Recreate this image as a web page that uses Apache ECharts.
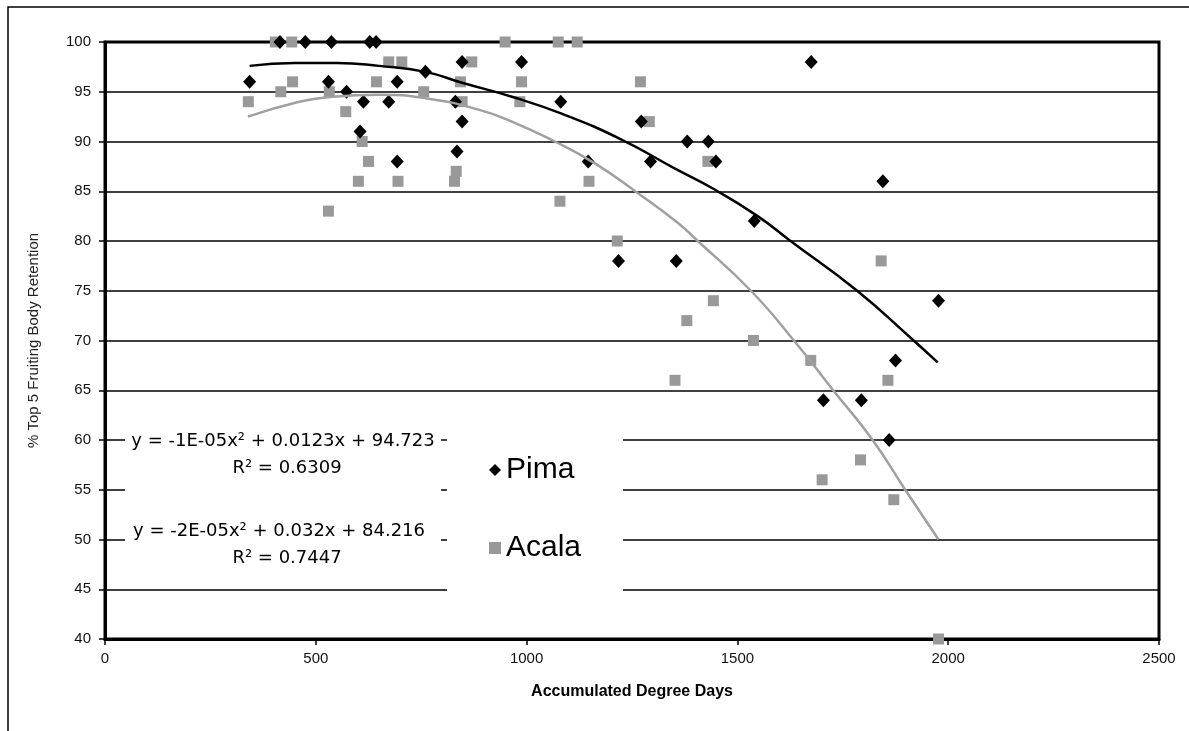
<!DOCTYPE html>
<html>
<head>
<meta charset="utf-8">
<script src="https://cdn.jsdelivr.net/npm/echarts@6/dist/echarts.min.js"></script>
<style>html,body{margin:0;padding:0;background:#fff;}#c{width:1189px;height:731px;}</style>
</head>
<body>
<div id="c"></div>
<script>
// Data
var pima = [
  [343,96],[415,100],[475,100],[537,100],[628,100],[643,100],[530,96],[573,95],[613,94],
  [673,94],[693,96],[605,91],[693,88],[760,97],[847,98],[988,98],[831,94],[847,92],
  [1081,94],[835,89],[1272,92],[1146,88],[1294,88],[1675,98],[1381,90],[1431,90],
  [1449,88],[1845,86],[1540,82],[1355,78],[1218,78],[1977,74],[1875,68],[1704,64],
  [1794,64],[1860,60]
];
var acala = [
  [404,100],[443,100],[340,94],[417,95],[445,96],[532,95],[571,93],[610,90],[625,88],
  [601,86],[695,86],[530,83],[673,98],[704,98],[644,96],[949,100],[1075,100],[1120,100],
  [870,98],[843,96],[988,96],[1270,96],[756,95],[847,94],[984,94],[1291,92],[833,87],
  [829,86],[1148,86],[1079,84],[1430,88],[1841,78],[1443,74],[1380,72],[1538,70],
  [1674,68],[1352,66],[1857,66],[1792,58],[1701,56],[1871,54],[1977,40],[1215,80]
];
// Trend curves
var pimaTrend = [
  [343,97.6],[450,97.9],[550,97.9],[650,97.6],[760,97.0],[847,95.9],[965,94.5],[1083,92.8],
  [1225,90.2],[1351,87.3],[1445,85.2],[1548,82.5],[1626,80],[1784,75],[1918,70],[1975,67.8]
];
var acalaTrend = [
  [339,92.5],[461,94.0],[540,94.5],[650,94.7],[768,94.3],[886,93.2],[965,92.0],[1067,90.0],
  [1162,87.8],[1264,84.8],[1359,81.8],[1406,80],[1532,75],[1634,70],[1729,64.9],[1819,60.1],
  [1898,55],[1977,50]
];
var seriesNames = ['Pima','Acala'];
var eqPima = ['y = -1E-05x\u00B2 + 0.0123x + 94.723', 'R\u00B2 = 0.6309'];
var eqAcala = ['y = -2E-05x\u00B2 + 0.032x + 84.216', 'R\u00B2 = 0.7447'];
var xTitle = 'Accumulated Degree Days';
var yTitle = '% Top 5 Fruiting Body Retention';

var chart = echarts.init(document.getElementById('c'), null, {renderer:'canvas'});
var font = 'Arial, "Liberation Sans", sans-serif';
var eqFont = '18px "DejaVu Sans", Arial, sans-serif';
var option = {
  backgroundColor: '#fff',
  animation: false,
  grid: {left:105, top:42, right:30, bottom:92, show:true, borderColor:'#000', borderWidth:3, backgroundColor:'transparent'},
  xAxis: {
    type:'value', min:0, max:2500, interval:500,
    name: xTitle, nameLocation:'middle', nameGap:45,
    nameTextStyle:{fontFamily:'"Liberation Sans Narrow", Arial, sans-serif', fontWeight:'bold', fontSize:16, color:'#000'},
    axisLine:{show:true, lineStyle:{color:'#000', width:3}},
    axisTick:{show:true, length:6, lineStyle:{color:'#000', width:1.5}},
    axisLabel:{fontFamily:'"Liberation Sans Narrow", Arial, sans-serif', fontSize:15, color:'#111', margin:12,
      formatter:function(v){return String(v);}},
    splitLine:{show:false}
  },
  yAxis: {
    type:'value', min:40, max:100, interval:5,
    name: yTitle, nameLocation:'middle', nameGap:64, nameRotate:90,
    nameTextStyle:{fontFamily:font, fontSize:15, color:'#222'},
    axisLine:{show:true, lineStyle:{color:'#000', width:3}},
    axisTick:{show:true, length:6, lineStyle:{color:'#000', width:1.5}},
    axisLabel:{fontFamily:font, fontSize:15, color:'#111', margin:14},
    splitLine:{show:true, lineStyle:{color:'#000', width:1.5}}
  },
  legend: {
    data: seriesNames,
    orient:'vertical', left:484, top:450, itemGap:48,
    itemWidth:12, itemHeight:12,
    textStyle:{fontFamily:font, fontSize:30, color:'#000'},
    z: 10
  },
  graphic: [
    {type:'rect', z:5, shape:{x:125, y:428, width:316, height:142}, style:{fill:'#fff'}},
    {type:'rect', z:5, shape:{x:447, y:428, width:176, height:172}, style:{fill:'#fff'}},
    {type:'text', z:6, x:283, y:441, style:{text:eqPima[0], font:eqFont, fill:'#000', textAlign:'center', textVerticalAlign:'middle'}},
    {type:'text', z:6, x:287, y:468, style:{text:eqPima[1], font:eqFont, fill:'#000', textAlign:'center', textVerticalAlign:'middle'}},
    {type:'text', z:6, x:279, y:531, style:{text:eqAcala[0], font:eqFont, fill:'#000', textAlign:'center', textVerticalAlign:'middle'}},
    {type:'text', z:6, x:287, y:558, style:{text:eqAcala[1], font:eqFont, fill:'#000', textAlign:'center', textVerticalAlign:'middle'}},
    {type:'rect', z:0, silent:true, shape:{x:8, y:7, width:1200, height:740}, style:{fill:'none', stroke:'#000', lineWidth:1.5}}
  ],
  series: [
    {name:seriesNames[0], type:'scatter', data:pima, symbol:'diamond', symbolSize:[13,14], itemStyle:{color:'#000', opacity:1}, z:4},
    {name:seriesNames[1], type:'scatter', data:acala, symbol:'rect', symbolSize:11, itemStyle:{color:'#999999', opacity:1}, z:3},
    {name:'Pima trend', type:'line', data:pimaTrend, smooth:true, showSymbol:false, lineStyle:{color:'#000', width:2.5}, z:5},
    {name:'Acala trend', type:'line', data:acalaTrend, smooth:true, showSymbol:false, lineStyle:{color:'#a0a0a0', width:2.5}, z:5}
  ]
};
chart.setOption(option);
</script>
</body>
</html>
